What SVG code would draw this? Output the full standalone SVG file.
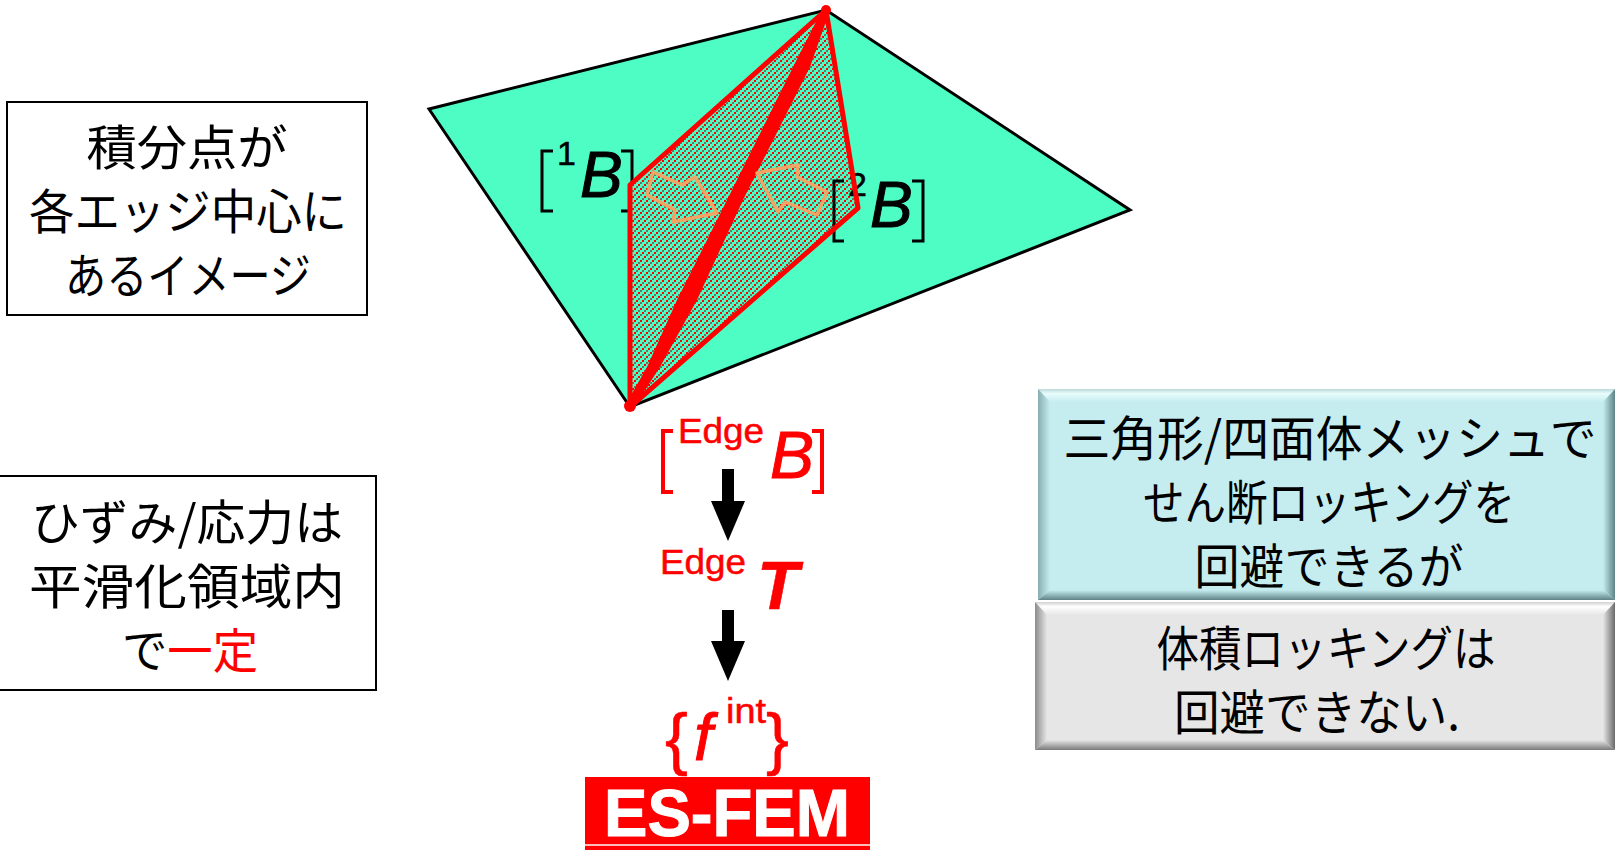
<svg xmlns="http://www.w3.org/2000/svg" width="1615" height="850" viewBox="0 0 1615 850">
<style>
.jp{font-family:"Noto Sans CJK JP","Noto Sans",sans-serif;font-size:48px;fill:#000;text-anchor:middle}
.box{fill:#fff;stroke:#000;stroke-width:2}
.m{font-family:"Liberation Sans",Arial,sans-serif}
.k{fill:#000;stroke:#000}
.r{fill:#f00;stroke:#f00}
.i{font-style:italic;stroke-width:1}
.n{stroke-width:.5}
.lab{fill:none;stroke:#000;stroke-width:3}
.arr{fill:none;stroke:#f2a464;stroke-width:3.5;stroke-linejoin:round}
</style>
<defs>
<pattern id="hatch" width="6" height="12" patternUnits="userSpaceOnUse" shape-rendering="crispEdges">
<rect width="6" height="12" fill="#4dfdc4"/>
<path d="M0 0h2v2h-2zM4 8h2v2h-2zM2 4h2v2h-2z" fill="#f00"/>
<path d="M2 10h2v2h-2zM0 6h2v2h-2zM4 2h2v2h-2z" fill="#5f7a60"/>
</pattern>
<marker id="head" markerUnits="userSpaceOnUse" markerWidth="42" markerHeight="34" refX="0" refY="17" orient="auto">
<path d="M0 0L40 17L0 34Z" fill="#000"/>
</marker>
<linearGradient id="bt" x1="0" y1="0" x2="0" y2="1"><stop offset="0" stop-color="#bcd8d9"/><stop offset=".35" stop-color="#e8fcfc"/><stop offset="1" stop-color="#c5edf0"/></linearGradient>
<linearGradient id="bl" x1="0" y1="0" x2="1" y2="0"><stop offset="0" stop-color="#87adb0"/><stop offset="1" stop-color="#c5edf0"/></linearGradient>
<linearGradient id="bb" x1="0" y1="0" x2="0" y2="1"><stop offset="0" stop-color="#c5edf0"/><stop offset="1" stop-color="#5f8286"/></linearGradient>
<linearGradient id="br" x1="0" y1="0" x2="1" y2="0"><stop offset="0" stop-color="#c5edf0"/><stop offset="1" stop-color="#5f8286"/></linearGradient>
<linearGradient id="gt" x1="0" y1="0" x2="0" y2="1"><stop offset="0" stop-color="#d0d0d0"/><stop offset=".35" stop-color="#fff"/><stop offset="1" stop-color="#e6e6e6"/></linearGradient>
<linearGradient id="gl" x1="0" y1="0" x2="1" y2="0"><stop offset="0" stop-color="#8c8c8c"/><stop offset="1" stop-color="#e6e6e6"/></linearGradient>
<linearGradient id="gb" x1="0" y1="0" x2="0" y2="1"><stop offset="0" stop-color="#e6e6e6"/><stop offset="1" stop-color="#7a7a7a"/></linearGradient>
<linearGradient id="gr" x1="0" y1="0" x2="1" y2="0"><stop offset="0" stop-color="#e6e6e6"/><stop offset="1" stop-color="#6a6a6a"/></linearGradient>
</defs>
<rect width="1615" height="850" fill="#fff"/>
<g id="plate">
<polygon points="429,109 826,10 1130,210 630,407" fill="#4dfdc4" stroke="#000" stroke-width="3"/>
<g id="label-1B" class="m">
<path d="M553 151H542V211H553" class="lab"/>
<text x="557" y="165" font-size="34" class="k n">1</text>
<text x="580" y="197" font-size="64" class="k i">B</text>
<path d="M621 151H632V211H621" class="lab"/>
</g>
<polygon points="826,10 630,185 630,407 858,208" fill="url(#hatch)"/>
<g id="label-2B" class="m">
<path d="M844 181H834V241H844" class="lab"/>
<text x="848" y="196" font-size="34" class="k n">2</text>
<text x="870" y="227" font-size="64" class="k i">B</text>
<path d="M912 181H923V241H912" class="lab"/>
</g>
<polygon points="826,10 630,185 630,407 858,208" fill="none" stroke="#f00" stroke-width="5" stroke-linejoin="round"/>
<polygon points="830,10 810,67 743,200 697,300 660,367 632,410 626,404 647,367 677,300 727,200 793,67 822,10" fill="#f00"/>
<circle cx="826" cy="10" r="5" fill="#f00"/>
<circle cx="630" cy="406" r="6" fill="#f00"/>
<polygon points="653,172 647,195 675,210 673,222 717,213 695,177 682,185" class="arr"/>
<polygon points="757,173 798,165 797,177 827,192 817,215 785,202 778,212" class="arr"/>
</g>
<g id="edge-b" class="m">
<path d="M673 431H663V492H673M812 431H822V492H812" fill="none" stroke="#f00" stroke-width="4"/>
<text x="678" y="443" font-size="35" class="r n" textLength="86" lengthAdjust="spacingAndGlyphs">Edge</text>
<text x="770" y="478" font-size="66" class="r i">B</text>
</g>
<g id="edge-t" class="m">
<text x="660" y="574" font-size="35" class="r n" textLength="86" lengthAdjust="spacingAndGlyphs">Edge</text>
<text x="757" y="609" font-size="68" font-weight="700" class="r i" style="stroke-width:.5">T</text>
</g>
<g id="f-int" class="m">
<text x="665" y="762" font-size="68" class="r n" textLength="23" lengthAdjust="spacingAndGlyphs">{</text>
<text x="694" y="760" font-size="66" class="r i">f</text>
<text x="726" y="723" font-size="35" class="r n" textLength="40" lengthAdjust="spacingAndGlyphs">int</text>
<text x="766" y="762" font-size="68" class="r n" textLength="23" lengthAdjust="spacingAndGlyphs">}</text>
</g>
<g id="es-fem">
<rect x="585" y="777" width="285" height="73" fill="#f00"/>
<rect x="585" y="844" width="285" height="2" fill="#fbb"/>
<text x="604" y="836" font-size="66" font-weight="700" textLength="246" lengthAdjust="spacingAndGlyphs" class="m" fill="#fff" stroke="#fff" stroke-width="1">ES-FEM</text>
</g>
<g id="connectors">
<line x1="728" y1="469" x2="728" y2="501" stroke="#000" stroke-width="12" marker-end="url(#head)"/>
<line x1="728" y1="610" x2="728" y2="641" stroke="#000" stroke-width="12" marker-end="url(#head)"/>
</g>
<g id="box-integration">
<rect class="box" x="7" y="102" width="360" height="213"/>
<text class="jp" x="187" y="165" textLength="201" lengthAdjust="spacingAndGlyphs">積分点が</text>
<text class="jp" x="188" y="229" textLength="318" lengthAdjust="spacingAndGlyphs">各エッジ中心に</text>
<text class="jp" x="188" y="293" textLength="246" lengthAdjust="spacingAndGlyphs">あるイメージ</text>
</g>
<g id="box-strain">
<rect class="box" x="-2" y="476" width="378" height="214"/>
<text class="jp" x="187" y="540" textLength="312" lengthAdjust="spacingAndGlyphs">ひずみ/応力は</text>
<text class="jp" x="187" y="604" textLength="316" lengthAdjust="spacingAndGlyphs">平滑化領域内</text>
<text class="jp" x="190" y="668" textLength="136" lengthAdjust="spacingAndGlyphs">で<tspan fill="#f00">一定</tspan></text>
</g>
<g id="box-shear">
<rect x="1038" y="389" width="577" height="211" fill="#c5edf0"/>
<polygon points="1038,389 1615,389 1603,402 1050,402" fill="url(#bt)"/>
<polygon points="1038,389 1050,402 1050,590 1038,600" fill="url(#bl)"/>
<polygon points="1038,600 1050,590 1603,590 1615,600" fill="url(#bb)"/>
<polygon points="1615,389 1603,402 1603,590 1615,600" fill="url(#br)"/>
<text class="jp" x="1330" y="456" textLength="533" lengthAdjust="spacingAndGlyphs">三角形/四面体メッシュで</text>
<text class="jp" x="1329" y="520" textLength="372" lengthAdjust="spacingAndGlyphs">せん断ロッキングを</text>
<text class="jp" x="1329" y="584" textLength="269" lengthAdjust="spacingAndGlyphs">回避できるが</text>
</g>
<g id="box-volume">
<rect x="1035" y="602" width="580" height="148" fill="#e6e6e6"/>
<polygon points="1035,602 1615,602 1603,615 1047,615" fill="url(#gt)"/>
<polygon points="1035,602 1047,615 1047,740 1035,750" fill="url(#gl)"/>
<polygon points="1035,750 1047,740 1603,740 1615,750" fill="url(#gb)"/>
<polygon points="1615,602 1603,615 1603,740 1615,750" fill="url(#gr)"/>
<text class="jp" x="1326" y="666" textLength="339" lengthAdjust="spacingAndGlyphs">体積ロッキングは</text>
<text class="jp" x="1317" y="730" textLength="286" lengthAdjust="spacingAndGlyphs">回避できない.</text>
</g>
</svg>
